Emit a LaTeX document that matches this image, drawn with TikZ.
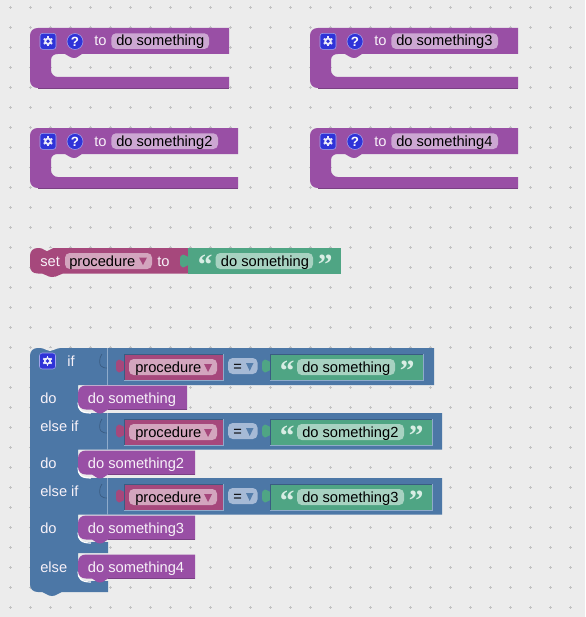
\documentclass[tikz,border=0pt]{standalone}
\usepackage{fontspec}
\setmainfont{Liberation Sans}
\newfontfamily\quotefont{Liberation Serif}
\usetikzlibrary{positioning,calc}
\definecolor{canvas}{HTML}{ECECEC}
\definecolor{griddot}{HTML}{C2C2C2}
\definecolor{proc}{HTML}{994FA5}
\definecolor{procfield}{HTML}{CCA7D2}
\definecolor{vari}{HTML}{A6487C}
\definecolor{varifield}{HTML}{D3A5BE}
\definecolor{strg}{HTML}{4FA584}
\definecolor{strgfield}{HTML}{A7D2C1}
\definecolor{ctrl}{HTML}{4C77A6}
\definecolor{ctrlfield}{HTML}{A6BAD6}
\definecolor{ctrldark}{HTML}{3A5C82}
\definecolor{ctrllight}{HTML}{8FABCB}
\definecolor{icon}{HTML}{2F33D8}
\definecolor{quotemark}{HTML}{D8EDE4}
\tikzset{
  lbl/.style={anchor=base west, inner sep=0pt, font=\fontsize{11}{13}\selectfont},
  whitelbl/.style={lbl, text=white!92!proc},
  blacklbl/.style={lbl, text=black},
  quotelbl/.style={anchor=base west, inner sep=0pt, text=quotemark, font=\quotefont\bfseries\fontsize{22}{22}\selectfont},
  fieldbox/.style={rounded corners=3.5pt},
  helplbl/.style={inner sep=0pt, text=white, font=\fontsize{10}{10}\selectfont\bfseries}
}
% settings button
\newcommand{\gearicon}[3]{
  \fill[icon, draw=icon!45!white, line width=0.4pt, rounded corners=2pt] (#2-8,#3-8) rectangle (#2+8,#3+8);
  \coordinate (#1) at (#2,#3);
  \foreach \a in {30,90,...,330}
    \draw[white!90!icon, line width=1.4pt] (#1) -- ++(\a:4.9);
  \fill[white!90!icon] (#1) circle (3.7);
  \fill[icon] (#1) circle (1.9);
}
\newcommand{\puztab}[3]{
  \fill[#3] (#1+0.5,#2+3) .. controls (#1-2,#2+3) and (#1-2,#2+0.5) .. (#1-5,#2+0.5) .. controls (#1-7.5,#2+0.5) and (#1-8,#2+3) .. (#1-8,#2+7) .. controls (#1-8,#2+11) and (#1-7.5,#2+13.5) .. (#1-5,#2+13.5) .. controls (#1-2,#2+13.5) and (#1-2,#2+11) .. (#1+0.5,#2+11) -- cycle;
}
% procedure definition block, local origin at its top left
\newcommand{\procblock}[5]{
  \begin{scope}[shift={(#2,#3)}]
  \fill[proc] (#4,0) -- (#4,26) -- (52,26) .. controls (49,27) and (48,30) .. (44,30) .. controls (40,30) and (38,27) .. (35,26) -- (28,26)
    .. controls (24,26) and (21,28) .. (21,32) -- (21,42) .. controls (21,46) and (24,49) .. (28,49) -- (#4,49) -- (#4,60) -- (8,60)
    .. controls (3,60) and (0,57) .. (0,52) -- (0,8) .. controls (0,3) and (3,0) .. (8,0) -- cycle;
  \draw[proc!80!black, line width=0.5pt] (#4,60) -- (8,60);
  \gearicon{#1gear}{18}{13.3}
  \fill[icon, draw=icon!45!white, line width=0.4pt] (45,13.5) circle (8);
  \node[helplbl] (#1help) at (45,13.5) {?};
  \node[whitelbl] (#1to) at (64,18) {to};
  \fill[procfield, fieldbox] (81.3,5.3) rectangle (#4-20,21);
  \node[blacklbl] (#1name) at (86,18) {#5};
  \end{scope}
}
% variable, comparison and string blocks of one if row
\newcommand{\valrow}[4]{
  \puztab{124}{#2+5}{vari}
  \fill[vari] (124,#2) rectangle (223,#2+26);
  \draw[ctrldark, line width=0.5pt] (124,#2+26) -- (124,#2) -- (223,#2);
  \draw[ctrllight, line width=0.5pt] (223,#2) -- (223,#2+26) -- (124,#2+26);
  \fill[varifield, fieldbox] (129,#2+5) rectangle (217,#2+21);
  \node[blacklbl] (#1var) at (135,#2+18) {procedure};
  \fill[vari] (204,#2+10) -- (212,#2+10) -- (208,#2+18) -- cycle;
  \fill[ctrlfield, fieldbox] (228,#2+4) rectangle (257.5,#2+20);
  \node[blacklbl] (#1eq) at (233,#2+17) {=};
  \fill[ctrl!90!ctrlfield] (246,#2+9) -- (253.5,#2+9) -- (249.7,#2+17) -- cycle;
  \puztab{270}{#2+5}{strg}
  \fill[strg] (270,#2) rectangle (#3,#2+26);
  \draw[ctrldark, line width=0.5pt] (270,#2+26) -- (270,#2) -- (#3,#2);
  \draw[ctrllight, line width=0.5pt] (#3,#2) -- (#3,#2+26) -- (270,#2+26);
  \node[quotelbl] (#1open) at (279.5,#2+26) {“};
  \fill[strgfield, fieldbox] (297,#2+5) rectangle (#3-28,#2+21);
  \node[blacklbl] (#1str) at (302,#2+18) {#4};
  \node[quotelbl] (#1close) at (#3-23.5,#2+26) {”};
  \draw[ctrldark, line width=0.5pt] (102,#2) .. controls (99,#2+4) and (99,#2+10) .. (101,#2+12) .. controls (103,#2+14) and (105,#2+14) .. (107,#2+14);
  \draw[ctrllight, line width=0.5pt] (107.5,#2-6) -- (107.5,#2+31);
}
% call block inside a do or else row
\newcommand{\callblock}[4]{
  \draw[white, line width=0.9pt] (78,#2+17) .. controls (78,#2+24) and (81,#2+27.5) .. (91,#2+27.5);
  \fill[proc] (#3,#2) -- (#3,#2+24) -- (108,#2+24) .. controls (105,#2+25) and (104,#2+28) .. (100,#2+28) .. controls (96,#2+28) and (95,#2+25) .. (92,#2+24)
    -- (86,#2+24) .. controls (81,#2+24) and (78,#2+21) .. (78,#2+16) -- (78,#2+8) .. controls (78,#2+3) and (81,#2) .. (86,#2) -- cycle;
  \draw[proc!80!black, line width=0.5pt] (#3,#2+24) -- (108,#2+24);
  \node[whitelbl] (#1) at (87.7,#2+18) {#4};
}
\begin{document}
\begin{tikzpicture}[x=0.75pt,y=-0.75pt]
\useasboundingbox (0,0) rectangle (585,617);
\fill[canvas] (0,0) rectangle (585,617);
\foreach \i in {0,...,28}
  \foreach \j in {0,...,30}
    \draw[griddot, line width=0.5pt] (10+20*\i-1.5,7.5+20*\j) -- ++(3,0) (10+20*\i,6+20*\j) -- ++(0,3);
% definitions
\procblock{defa}{30}{28}{199}{do something}
\procblock{defb}{30}{128}{208}{do something2}
\procblock{defc}{310}{28}{208}{do something3}
\procblock{defd}{310}{128}{208}{do something4}
% set block
\fill[vari] (188,248) -- (188,273.5) -- (63,273.5) .. controls (59,274) and (58,277) .. (52,277) .. controls (47,277) and (46,274) .. (42,273.5) -- (38,273.5)
  .. controls (33,273.5) and (30,271) .. (30,266) -- (30,256) .. controls (30,251) and (33,248) .. (38,248) -- cycle;
\fill[canvas] (40,248) .. controls (44,248.5) and (45,251) .. (47,251) .. controls (49,251) and (50,248.5) .. (53,248) -- cycle;
\node[whitelbl] (setlbl) at (40,266) {set};
\fill[varifield, fieldbox] (65,253) rectangle (152,269);
\node[blacklbl] (setvar) at (69,266) {procedure};
\fill[vari] (139,257.5) -- (147,257.5) -- (143,265) -- cycle;
\node[whitelbl] (setto) at (157,266) {to};
\puztab{188}{254}{strg}
\fill[strg] (188,248) rectangle (341,273.5);
\node[quotelbl] (setopen) at (197.5,274) {“};
\fill[strgfield, fieldbox] (215.5,253) rectangle (313,269);
\node[blacklbl] (setstr) at (220.7,266) {do something};
\node[quotelbl] (setclose) at (317.5,274) {”};
% if block
\fill[ctrl] (60,348) -- (434,348) -- (434,385) -- (78,385) -- (78,405) .. controls (78,410) and (81,413) .. (86,413) -- (442,413) -- (442,449.5) -- (78,449.5)
  -- (78,470) .. controls (78,475) and (81,478) .. (86,478) -- (442,478) -- (442,514.5) -- (78,514.5)
  -- (78,535) .. controls (78,540) and (81,542) .. (86,542) -- (108,542) -- (108,553) -- (78,553)
  -- (78,574) .. controls (78,578) and (81,581) .. (86,581) -- (108,581) -- (108,592) -- (62,592)
  .. controls (58,592.5) and (57,596) .. (52,596) .. controls (47,596) and (46,592.5) .. (42,592) -- (38,592)
  .. controls (33,592) and (30,589) .. (30,584) -- (30,356) .. controls (30,351) and (33,348) .. (38,348) -- cycle;
\fill[canvas] (41,348) .. controls (45,348.5) and (47,351) .. (50,351) .. controls (53,351) and (55,348.5) .. (60,348) -- cycle;
\gearicon{ifgear}{47.5}{361}
\node[whitelbl] (iflbl) at (67,366) {if};
\node[whitelbl] (doa) at (40,403) {do};
\node[whitelbl] (elifb) at (40,431) {else if};
\node[whitelbl] (dob) at (40,468) {do};
\node[whitelbl] (elifc) at (40,496) {else if};
\node[whitelbl] (doc) at (40,533) {do};
\node[whitelbl] (elselbl) at (40,572) {else};
\valrow{rowa}{354}{423}{do something}
\valrow{rowb}{419}{432}{do something2}
\valrow{rowc}{484}{432}{do something3}
\callblock{calla}{385.5}{187}{do something}
\callblock{callb}{450.5}{195}{do something2}
\callblock{callc}{515.5}{195}{do something3}
\callblock{calld}{554.5}{195}{do something4}
\end{tikzpicture}
\end{document}
